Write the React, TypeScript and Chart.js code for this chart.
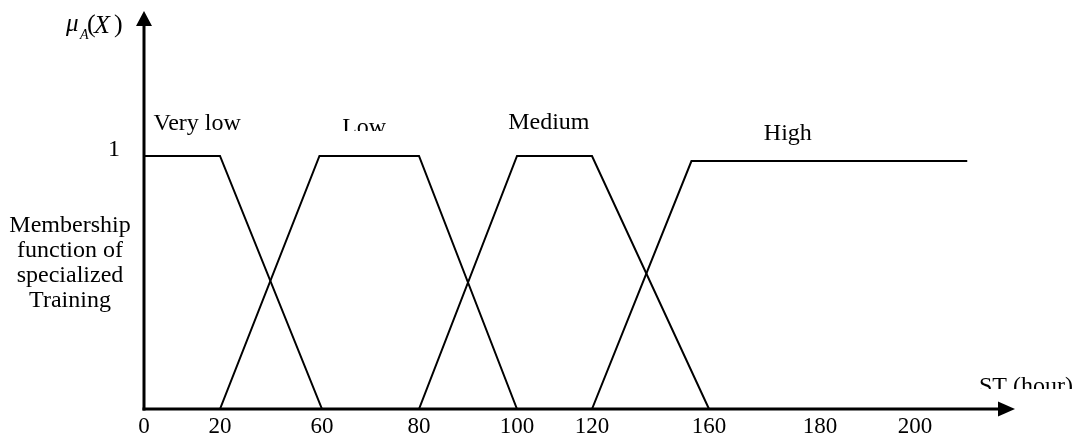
import React, { useEffect, useRef } from 'react';
import { Chart, registerables } from 'chart.js';

Chart.register(...registerables);

// ---- data ----
const X_TICK_VALUES = [0, 20, 60, 80, 100, 120, 160, 180, 200];
const Y_TICK_VALUES = [1];
const SERIES_NAMES = ['Very low', 'Low', 'Medium', 'High'];
const VERY_LOW_X = [0, 20, 60];
const VERY_LOW_Y = [1, 1, 0];
const LOW_X = [20, 59, 80, 100];
const LOW_Y = [0, 1, 1, 0];
const MEDIUM_X = [80, 100, 120, 160];
const MEDIUM_Y = [0, 1, 1, 0];
const HIGH_X = [120, 154, 211];
const HIGH_Y = [0, 0.98, 0.98];
const X_TITLE = 'ST (hour)';
const Y_TITLE_LINES = ['Membership', 'function of', 'specialized', 'Training'];

// ---- axis layout (the drawn axis is not evenly spaced) ----
const AXIS_GAPS = [0, 76, 178, 275, 373, 448, 565, 676, 771];
const AXIS_LENGTH = 871;
const Y_MAX = 1.573;

// where the series names sit (in data units: hour, membership)
const NAME_AT_X = [14, 68.7, 108.5, 174.2];
const NAME_AT_Y = [1.103, 1.087, 1.107, 1.063];

function warp(v: number): number {
  const t = X_TICK_VALUES;
  const g = AXIS_GAPS;
  const n = t.length;
  if (v <= t[0]) return g[0];
  for (let i = 0; i < n - 1; i++) {
    if (v <= t[i + 1]) {
      return g[i] + ((v - t[i]) / (t[i + 1] - t[i])) * (g[i + 1] - g[i]);
    }
  }
  const slope = (g[n - 1] - g[n - 2]) / (t[n - 1] - t[n - 2]);
  return g[n - 1] + (v - t[n - 1]) * slope;
}

const toPoints = (xs: number[], ys: number[]) => xs.map((x, i) => ({ x: warp(x), y: ys[i] }));

const SERIF = "'Liberation Serif', 'Times New Roman', serif";

const decorPlugin = {
  id: 'decor',
  afterDraw(chart: any) {
    const { ctx, chartArea: a, scales } = chart;
    const x0 = a.left;
    const y0 = a.bottom;
    ctx.save();
    ctx.strokeStyle = '#000';
    ctx.fillStyle = '#000';
    ctx.lineWidth = 3;
    // y axis + arrow
    ctx.beginPath();
    ctx.moveTo(x0, y0 + 1.5);
    ctx.lineTo(x0, a.top + 15);
    ctx.stroke();
    ctx.beginPath();
    ctx.moveTo(x0 - 8, a.top + 15);
    ctx.lineTo(x0 + 8, a.top + 15);
    ctx.lineTo(x0, a.top);
    ctx.closePath();
    ctx.fill();
    // x axis + arrow
    ctx.beginPath();
    ctx.moveTo(x0 - 1.5, y0);
    ctx.lineTo(a.right - 16, y0);
    ctx.stroke();
    ctx.beginPath();
    ctx.moveTo(a.right - 17, y0 - 7.5);
    ctx.lineTo(a.right - 17, y0 + 7.5);
    ctx.lineTo(a.right, y0);
    ctx.closePath();
    ctx.fill();

    // series names
    ctx.font = `24px ${SERIF}`;
    ctx.textAlign = 'center';
    ctx.textBaseline = 'alphabetic';
    SERIES_NAMES.forEach((name, i) => {
      const px = scales.x.getPixelForValue(warp(NAME_AT_X[i]));
      const py = scales.y.getPixelForValue(NAME_AT_Y[i]);
      ctx.save();
      if (name === 'Low') {
        ctx.beginPath();
        ctx.rect(0, 0, chart.width, py - 3);
        ctx.clip();
      }
      ctx.fillText(name, px, py);
      ctx.restore();
    });

    // x title, partly hidden at its foot like the source
    ctx.save();
    ctx.beginPath();
    ctx.rect(0, 0, chart.width, y0 - 20);
    ctx.clip();
    ctx.textAlign = 'center';
    ctx.fillText(X_TITLE, a.right + 11, y0 - 16);
    ctx.restore();

    // y description
    ctx.textAlign = 'center';
    Y_TITLE_LINES.forEach((line, i) => {
      ctx.fillText(line, 70, 232 + i * 25);
    });

    // mu_A(X)
    ctx.textAlign = 'left';
    ctx.font = `italic 25px ${SERIF}`;
    ctx.fillText('\u03bc', 66, 31);
    ctx.font = `italic 14px ${SERIF}`;
    ctx.fillText('A', 80, 39);
    ctx.font = `26px ${SERIF}`;
    ctx.fillText('(', 87, 32);
    ctx.font = `italic 26px ${SERIF}`;
    ctx.fillText('X', 94, 33);
    ctx.font = `26px ${SERIF}`;
    ctx.fillText(')', 114, 32);
    ctx.restore();
  },
};

export default function App() {
  const ref = useRef<HTMLCanvasElement | null>(null);

  useEffect(() => {
    if (!ref.current) return;
    Chart.defaults.font.family = SERIF;
    const line = (label: string, xs: number[], ys: number[]) => ({
      label,
      data: toPoints(xs, ys),
      showLine: true,
      borderColor: '#000',
      backgroundColor: '#000',
      borderWidth: 2,
      pointRadius: 0,
      tension: 0,
      fill: false,
    });
    const chart = new Chart(ref.current, {
      type: 'scatter',
      data: {
        datasets: [
          line(SERIES_NAMES[0], VERY_LOW_X, VERY_LOW_Y),
          line(SERIES_NAMES[1], LOW_X, LOW_Y),
          line(SERIES_NAMES[2], MEDIUM_X, MEDIUM_Y),
          line(SERIES_NAMES[3], HIGH_X, HIGH_Y),
        ],
      },
      options: {
        animation: false,
        responsive: false,
        layout: { padding: { top: 11, right: 66, bottom: 0, left: 0 } },
        plugins: { legend: { display: false }, tooltip: { enabled: false } },
        scales: {
          x: {
            type: 'linear',
            position: 'bottom',
            min: 0,
            max: AXIS_LENGTH,
            grid: { display: false, drawTicks: false },
            border: { display: false },
            afterBuildTicks: (s: any) => {
              s.ticks = X_TICK_VALUES.map((v) => ({ value: warp(v) }));
            },
            afterFit: (s: any) => {
              s.height = 30;
              s.paddingLeft = 0;
              s.paddingRight = 0;
            },
            ticks: {
              autoSkip: false,
              maxRotation: 0,
              padding: 4,
              color: '#000',
              font: { family: SERIF, size: 23 },
              callback: (_v: any, i: number) => String(X_TICK_VALUES[i]),
            },
          },
          y: {
            type: 'linear',
            min: 0,
            max: Y_MAX,
            grid: { display: false, drawTicks: false },
            border: { display: false },
            afterBuildTicks: (s: any) => {
              s.ticks = Y_TICK_VALUES.map((v) => ({ value: v }));
            },
            afterFit: (s: any) => {
              s.width = 144;
              s.paddingTop = 0;
              s.paddingBottom = 0;
            },
            ticks: {
              padding: 24,
              labelOffset: -6,
              color: '#000',
              font: { family: SERIF, size: 24 },
              callback: (v: any) => String(v),
            },
          },
        },
      },
      plugins: [decorPlugin],
    });
    return () => chart.destroy();
  }, []);

  return (
    <div style={{ position: 'fixed', left: 0, top: 0, width: 1081, height: 439, background: '#fff' }}>
      <canvas ref={ref} width={1081} height={439} style={{ display: 'block' }} />
    </div>
  );
}
